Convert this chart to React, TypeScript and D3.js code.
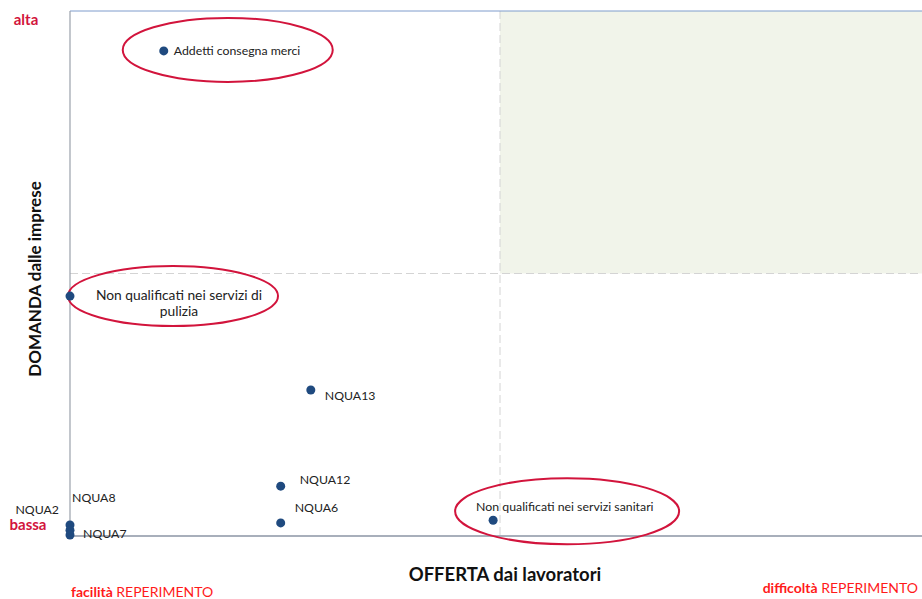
import React from 'react';
import * as d3 from 'd3';

// professioni: offerta (difficoltà) vs domanda
const names = [
    'Addetti consegna merci',
    'Non qualificati nei servizi di pulizia',
    'NQUA13',
    'NQUA12',
    'NQUA6',
    'Non qualificati nei servizi sanitari',
    'NQUA2',
    'NQUA8',
    'NQUA7',
];
const offerta = [10.9, 0, 28.0, 24.5, 24.5, 49.2, 0, 0, 0];
const domanda = [92.4, 45.7, 27.8, 9.5, 2.5, 3.0, 2.1, 1.1, 0.2];
const highlighted = [
    'Addetti consegna merci',
    'Non qualificati nei servizi di pulizia',
    'Non qualificati nei servizi sanitari',
];
const midX = 50;
const midY = 50;

// label placement (offsets from point, px)
const labelPos: Record<string, { dx: number; dy: number; anchor?: string; size?: number; lines?: string[] }> = {
    'Addetti consegna merci': { dx: 10, dy: 4 },
    'Non qualificati nei servizi di pulizia': { dx: 109, dy: 4, anchor: 'middle', size: 13.8, lines: ['Non qualificati nei servizi di', 'pulizia'] },
    NQUA13: { dx: 14, dy: 10 },
    NQUA12: { dx: 19, dy: -2 },
    NQUA6: { dx: 14, dy: -11 },
    'Non qualificati nei servizi sanitari': { dx: -17, dy: -9 },
    NQUA2: { dx: -11, dy: -11, anchor: 'end' },
    NQUA8: { dx: 2, dy: -28 },
    NQUA7: { dx: 13, dy: 3 },
};
const ellipses: Record<string, { cx: number; cy: number; rx: number; ry: number }> = {
    'Addetti consegna merci': { cx: 64, cy: -1, rx: 105, ry: 32 },
    'Non qualificati nei servizi di pulizia': { cx: 103, cy: 0, rx: 105, ry: 30 },
    'Non qualificati nei servizi sanitari': { cx: 74, cy: -9, rx: 112, ry: 33 },
};

export default function App() {
    const width = 922;
    const height = 599;
    const left = 70, top = 11, bottom = 536, right = 930;

    const x = d3.scaleLinear().domain([0, 100]).range([left, right]);
    const y = d3.scaleLinear().domain([0, 100]).range([bottom, top]);

    const font = 'Lato, "Open Sans", sans-serif';
    const red = '#ff1a1a';
    const crimson = '#d2143c';

    return (
        <svg width={width} height={height} style={{ position: 'fixed', left: 0, top: 0, background: '#fff' }} fontFamily={font}>
            {/* quadrante difficoltà / domanda alta */}
            <rect x={x(midX)} y={y(100)} width={width - x(midX)} height={y(midY) - y(100)} fill="#f1f4ea" />
            <line x1={x(midX)} x2={x(midX)} y1={top} y2={bottom} stroke="#d4d4d4" strokeDasharray="8,4" />
            <line x1={left} x2={width} y1={y(midY)} y2={y(midY)} stroke="#d4d4d4" strokeDasharray="8,4" />

            {/* axes */}
            <line x1={left} x2={width} y1={top} y2={top} stroke="#7f9ccc" strokeWidth={1} />
            <line x1={left} x2={left} y1={top} y2={bottom} stroke="#9aa1ab" strokeWidth={1.2} />
            <line x1={left} x2={width} y1={bottom} y2={bottom} stroke="#8b95a5" strokeWidth={1.5} />

            {names.map((n, i) => {
                const px = x(offerta[i]);
                const py = y(domanda[i]);
                const lp = labelPos[n];
                const e = ellipses[n];
                return (
                    <g key={n}>
                        {highlighted.includes(n) && e && (
                            <ellipse cx={px + e.cx} cy={py + e.cy} rx={e.rx} ry={e.ry} fill="none" stroke={crimson} strokeWidth={2} />
                        )}
                        <circle cx={px} cy={py} r={4.5} fill="#1f4a7f" />
                        <text x={px + lp.dx} y={py + lp.dy} fontSize={lp.size || 12.3} fill="#222" textAnchor={lp.anchor || 'start'}>
                            {(lp.lines || [n]).map((t, j) => (
                                <tspan key={j} x={px + lp.dx} dy={j === 0 ? 0 : 16}>{t}</tspan>
                            ))}
                        </text>
                    </g>
                );
            })}

            {/* titoli */}
            <text x={26} y={25} fontSize={15} fontWeight="bold" fill={crimson} textAnchor="middle">alta</text>
            <text x={28} y={530} fontSize={15} fontWeight="bold" fill={crimson} textAnchor="middle">bassa</text>
            <text transform="translate(41,279) rotate(-90)" fontSize={17} fontWeight="bold" fill="#111" textAnchor="middle">DOMANDA dalle imprese</text>
            <text x={505} y={581} fontSize={18.5} fontWeight="bold" fill="#111" textAnchor="middle">OFFERTA dai lavoratori</text>
            <text x={71} y={597} fontSize={14} fill={red}>
                <tspan fontWeight="bold">facilità</tspan> REPERIMENTO
            </text>
            <text x={918} y={593} fontSize={14} fill={red} textAnchor="end">
                <tspan fontWeight="bold">difficoltà</tspan> REPERIMENTO
            </text>
        </svg>
    );
}
